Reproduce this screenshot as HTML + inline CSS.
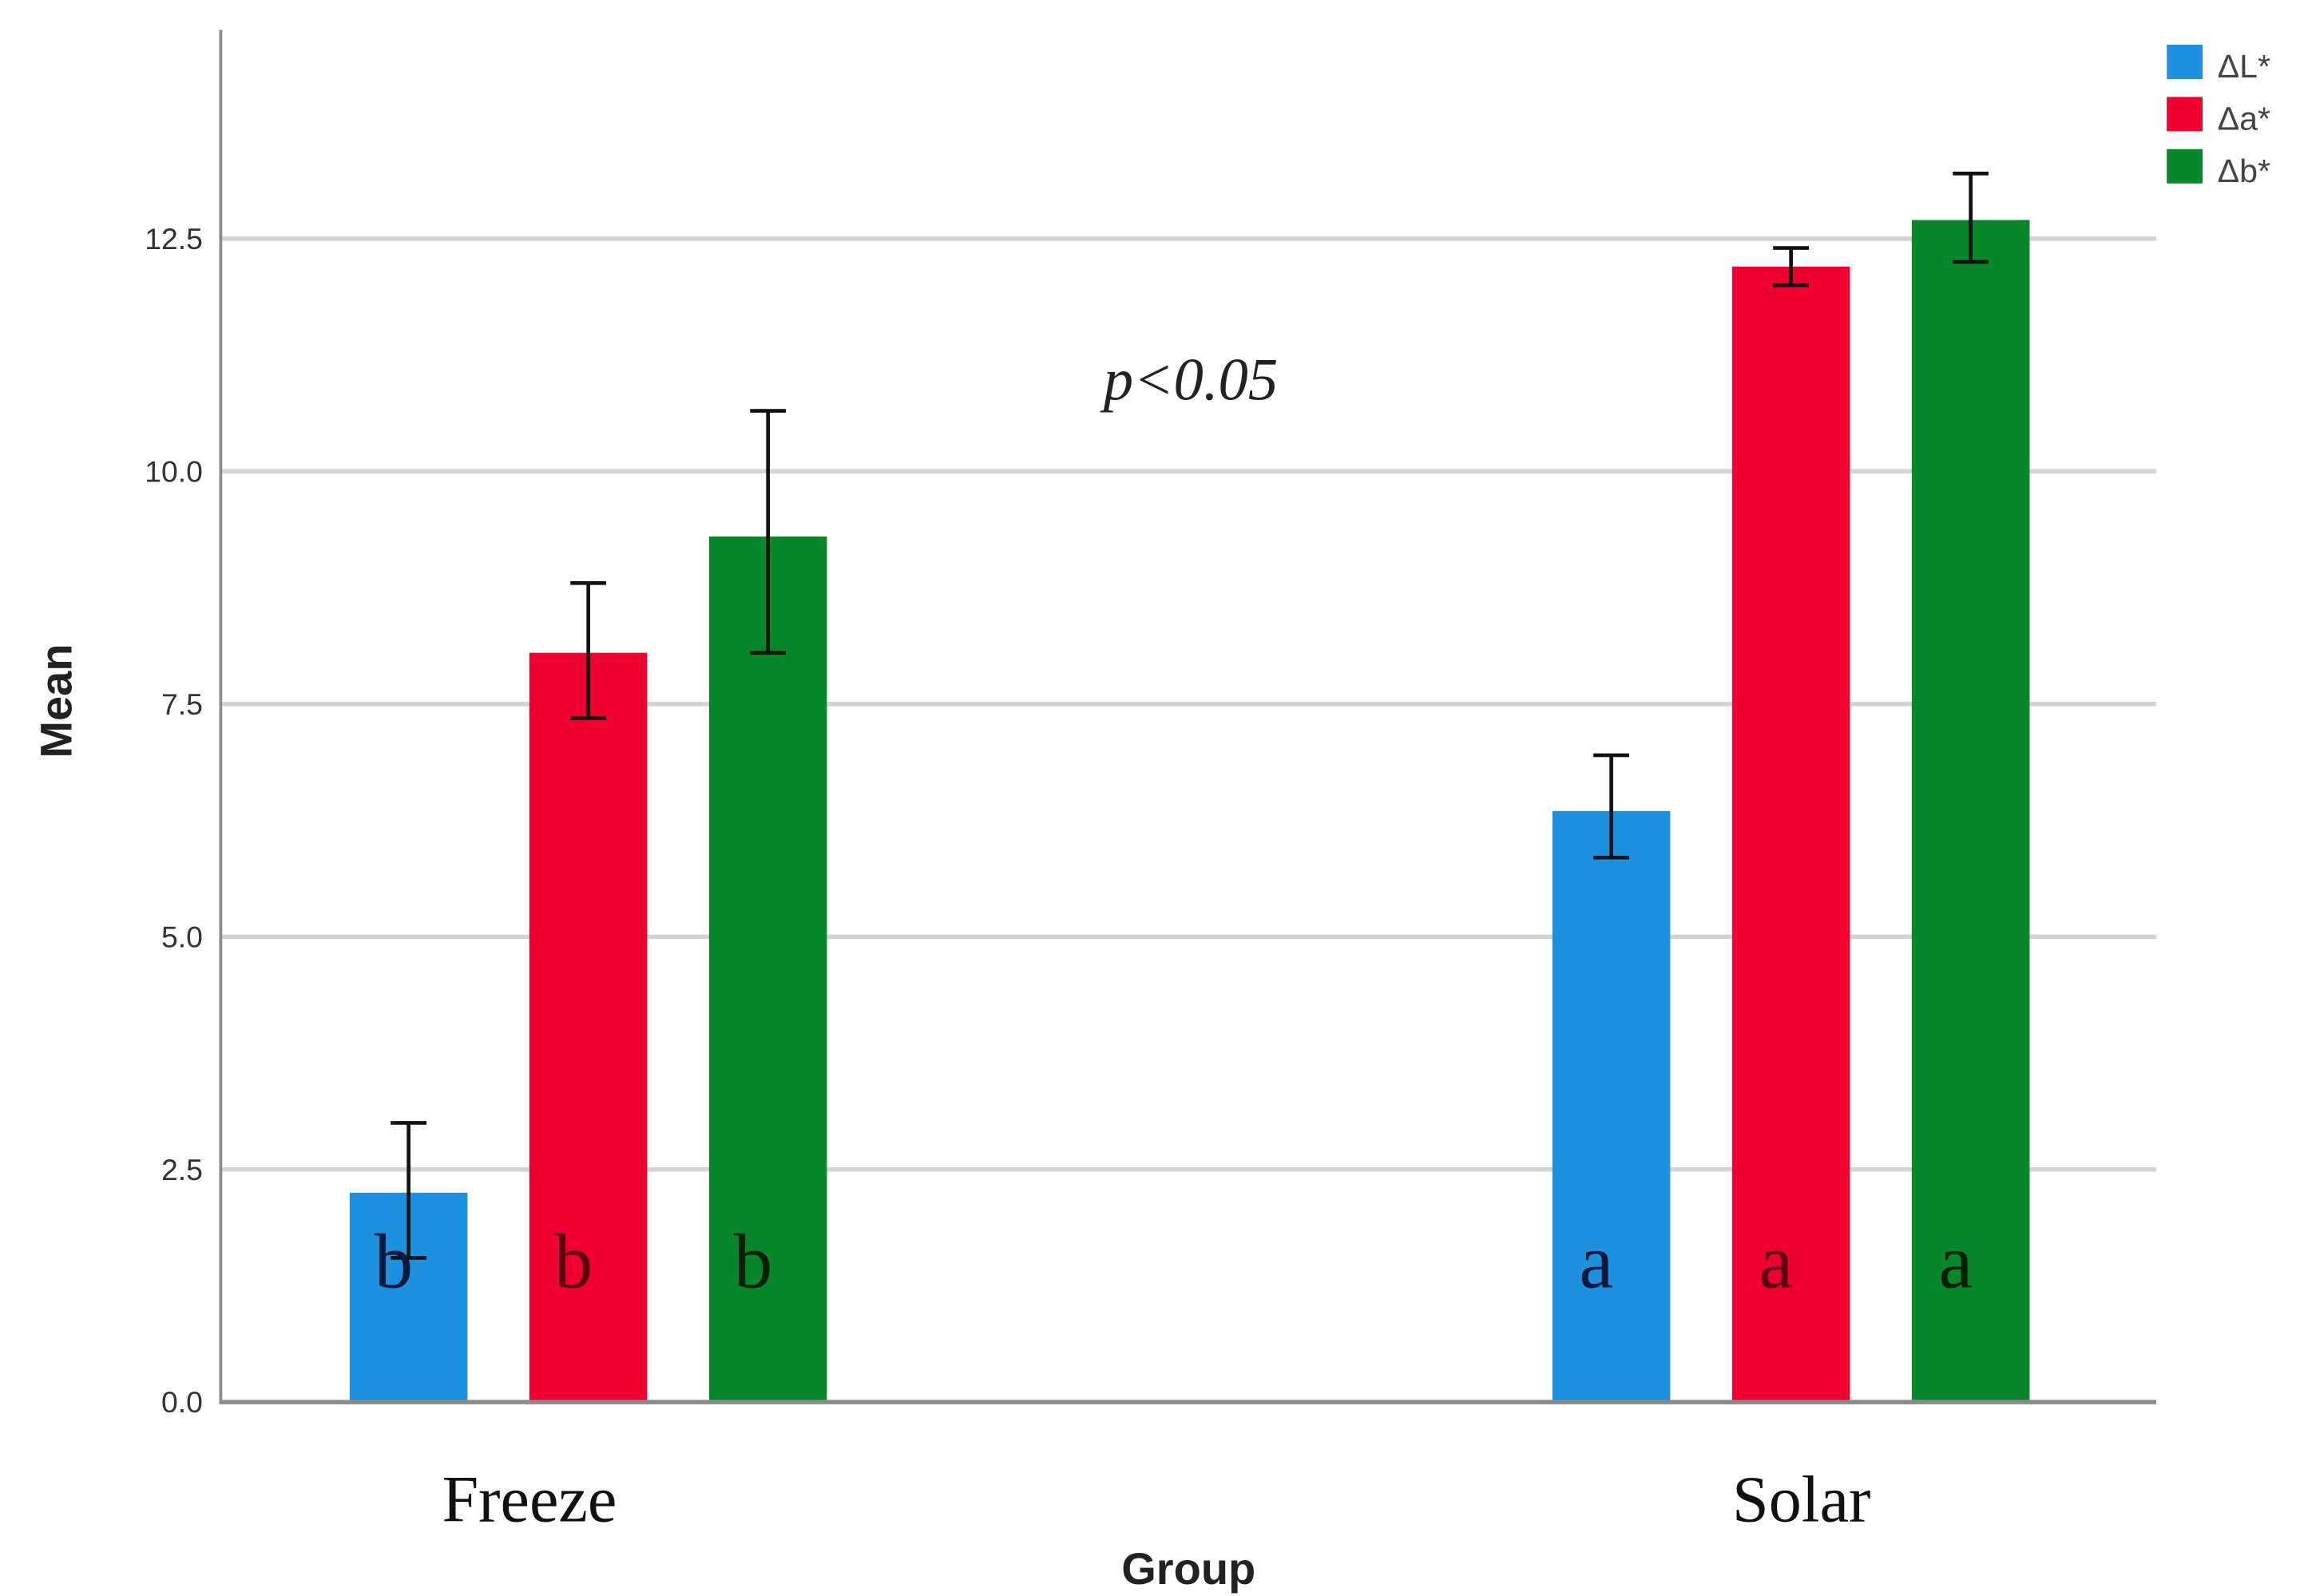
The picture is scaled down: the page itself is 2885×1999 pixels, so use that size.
<!DOCTYPE html>
<html><head><meta charset="utf-8"><style>
html,body{margin:0;padding:0;background:#fff;}
svg{display:block;}
</style></head><body>
<svg id="chart" width="2885" height="1999" viewBox="0 0 1545 1070" preserveAspectRatio="none" xmlns="http://www.w3.org/2000/svg">
<rect width="1545" height="1070" fill="#fff"/>
<g id="grid"></g>
<g id="bars"></g>
<line x1="148" y1="20" x2="148" y2="941" stroke="#8a8a8a" stroke-width="2"/>
<line x1="147" y1="940" x2="1446" y2="940" stroke="#8a8a8a" stroke-width="3"/>
<text x="740" y="268" font-family="Liberation Serif, serif" font-style="italic" font-size="40" fill="#222">p&lt;0.05</text>
<text x="355" y="1020" text-anchor="middle" font-family="Liberation Serif, serif" font-size="44" fill="#111">Freeze</text>
<text x="1208" y="1020" text-anchor="middle" font-family="Liberation Serif, serif" font-size="44" fill="#111">Solar</text>
<text x="797" y="1062" text-anchor="middle" font-family="Liberation Sans, sans-serif" font-weight="bold" font-size="30" fill="#222">Group</text>
<text transform="translate(48,470) rotate(-90)" text-anchor="middle" font-family="Liberation Sans, sans-serif" font-weight="bold" font-size="30" fill="#222">Mean</text>
<g font-family="Liberation Sans, sans-serif" font-size="22" fill="#444">
<rect x="1453" y="30" width="24" height="23" fill="#1e90e0"/>
<text x="1487" y="52">ΔL*</text>
<rect x="1453" y="65" width="24" height="23" fill="#ee0030"/>
<text x="1487" y="87">Δa*</text>
<rect x="1453" y="100" width="24" height="23" fill="#07862a"/>
<text x="1487" y="122">Δb*</text>
</g>
</svg>
<script>
const categories = ["Freeze", "Solar"];
const seriesNames = ["ΔL*", "Δa*", "Δb*"];
const meansFreeze = [2.25, 8.05, 9.3];
const meansSolar = [6.35, 12.2, 12.7];
const errLowFreeze = [1.55, 7.35, 8.05];
const errHighFreeze = [3.0, 8.8, 10.65];
const errLowSolar = [5.85, 12.0, 12.25];
const errHighSolar = [6.95, 12.4, 13.2];
const lettersFreeze = ["b", "b", "b"];
const lettersSolar = ["a", "a", "a"];
const yTicks = [0, 2.5, 5, 7.5, 10, 12.5];

const NS = "http://www.w3.org/2000/svg";
const colors = ["#1e90e0", "#ee0030", "#07862a"];
const letterColors = ["#0b1a3a", "#5a0010", "#0a1f0a"];
function y(v){ return 940 - v * 62.4; }
const groupCenter = [394.5, 1201];
const barStep = 120.5, barW = 79;
function x(gi, si){ return groupCenter[gi] + (si - 1) * barStep - barW / 2; }
function mk(tag, attrs, parent){
  const el = document.createElementNS(NS, tag);
  for (const k in attrs) el.setAttribute(k, attrs[k]);
  parent.appendChild(el);
  return el;
}
const grid = document.getElementById("grid");
yTicks.forEach(t => {
  if (t > 0) {
    const ln = mk("line", {x1:148, x2:1446, y1:y(t), y2:y(t), stroke:"#d4d4d4", "stroke-width":3}, grid);
    
    
  }
  const tx = mk("text", {x:136, y:y(t)+7, "text-anchor":"end", "font-family":"Liberation Sans, sans-serif", "font-size":20, fill:"#333"}, grid);
  tx.textContent = t.toFixed(1);
  
  
});
const bars = document.getElementById("bars");
const means = [meansFreeze, meansSolar];
const lows = [errLowFreeze, errLowSolar];
const highs = [errHighFreeze, errHighSolar];
const letters = [lettersFreeze, lettersSolar];
categories.forEach((c, gi) => {
  seriesNames.forEach((s, si) => {
    const bx = x(gi, si);
    const r = mk("rect", {x:bx, y:y(means[gi][si]), width:barW, height:y(0)-y(means[gi][si]), fill:colors[si]}, bars);
    
    
    const cx = bx + barW / 2;
    const e = mk("path", {d:`M${cx-12},${y(highs[gi][si])}H${cx+12}M${cx},${y(highs[gi][si])}V${y(lows[gi][si])}M${cx-12},${y(lows[gi][si])}H${cx+12}`, stroke:"#111", "stroke-width":2.5, fill:"none"}, bars);
    
    
    const lt = mk("text", {x:cx - 10, y:863, "text-anchor":"middle", "font-family":"Liberation Serif, serif", "font-size":52, fill:letterColors[si]}, bars);
    lt.textContent = letters[gi][si];
    
    
  });
});
</script>
</body></html>
